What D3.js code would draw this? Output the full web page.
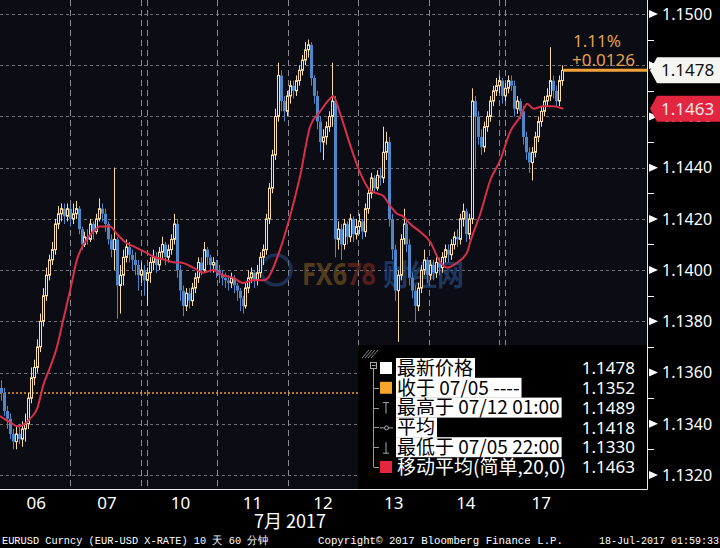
<!DOCTYPE html>
<html><head><meta charset="utf-8">
<script src="https://cdn.jsdelivr.net/npm/d3@7"></script>
<style>html,body{margin:0;padding:0;background:#000;}svg{display:block}</style>
</head><body><svg id="c" width="720" height="548"></svg>
<script>
// ---------- data (hourly EURUSD) ----------
const firstOpen = 1.1354;
const closes = [1.1352,1.1345,1.1342,1.1336,1.1333,1.1336,1.1334,1.1338,1.1340,1.1350,
1.1358,1.1362,1.1370,1.1380,1.1390,1.1398,1.1404,1.1408,1.1418,1.1422,
1.1424,1.1421,1.1424,1.1420,1.1422,1.1424,1.1416,1.1410,1.1413,1.1412,
1.1418,1.1415,1.1420,1.1424,1.1422,1.1418,1.1412,1.1408,1.1412,1.1394,
1.1398,1.1405,1.1409,1.1406,1.1404,1.1402,1.1398,1.1400,1.1396,1.1399,
1.1403,1.1405,1.1402,1.1407,1.1410,1.1405,1.1408,1.1412,1.1418,1.1400,
1.1392,1.1386,1.1391,1.1388,1.1393,1.1397,1.1403,1.1400,1.1408,1.1405,
1.1402,1.1403,1.1400,1.1398,1.1397,1.1396,1.1395,1.1397,1.1394,1.1392,
1.1389,1.1386,1.1393,1.1397,1.1399,1.1396,1.1399,1.1405,1.1408,1.1420,
1.1432,1.1445,1.1460,1.1476,1.1466,1.1462,1.1468,1.1472,1.1470,1.1474,
1.1478,1.1482,1.1486,1.1488,1.1475,1.1468,1.1458,1.1450,1.1452,1.1456,
1.1460,1.1466,1.1412,1.1416,1.1410,1.1418,1.1413,1.1420,1.1414,1.1417,
1.1419,1.1415,1.1424,1.1430,1.1436,1.1432,1.1437,1.1436,1.1446,1.1450,
1.1420,1.1408,1.1392,1.1398,1.1412,1.1418,1.1410,1.1397,1.1392,1.1386,
1.1393,1.1400,1.1404,1.1398,1.1402,1.1399,1.1403,1.1401,1.1405,1.1408,
1.1406,1.1410,1.1413,1.1412,1.1420,1.1423,1.1414,1.1420,1.1466,1.1460,
1.1452,1.1448,1.1456,1.1460,1.1466,1.1470,1.1472,1.1474,1.1468,1.1471,
1.1474,1.1472,1.1463,1.1466,1.1462,1.1452,1.1446,1.1442,1.1446,1.1452,
1.1458,1.1462,1.1466,1.1468,1.1474,1.1470,1.1466,1.1474,1.1478];
const highs = [1.1357,1.1354,1.1347,1.1344,1.1338,1.1339,1.1340,1.1341,1.1344,1.1352,
1.1362,1.1365,1.1373,1.1383,1.1393,1.1401,1.1406,1.1411,1.1420,1.1425,
1.1426,1.1426,1.1426,1.1425,1.1426,1.1427,1.1425,1.1417,1.1415,1.1416,
1.1420,1.1419,1.1422,1.1428,1.1426,1.1424,1.1419,1.1414,1.1440,1.1413,
1.1402,1.1408,1.1412,1.1411,1.1408,1.1407,1.1404,1.1403,1.1402,1.1401,
1.1405,1.1408,1.1407,1.1409,1.1413,1.1411,1.1410,1.1414,1.1422,1.1420,
1.1402,1.1394,1.1393,1.1393,1.1395,1.1399,1.1405,1.1405,1.1411,1.1409,
1.1406,1.1405,1.1404,1.1402,1.1400,1.1399,1.1398,1.1399,1.1398,1.1395,
1.1393,1.1390,1.1395,1.1400,1.1401,1.1400,1.1402,1.1407,1.1410,1.1422,
1.1434,1.1447,1.1463,1.1481,1.1478,1.1468,1.1470,1.1474,1.1474,1.1476,
1.1480,1.1484,1.1489,1.1490,1.1489,1.1476,1.1470,1.1460,1.1455,1.1458,
1.1462,1.1481,1.1468,1.1419,1.1418,1.1420,1.1419,1.1422,1.1421,1.1420,
1.1422,1.1420,1.1426,1.1432,1.1438,1.1437,1.1439,1.1440,1.1456,1.1454,
1.1452,1.1422,1.1410,1.1400,1.1414,1.1424,1.1420,1.1412,1.1399,1.1394,
1.1395,1.1402,1.1408,1.1405,1.1404,1.1404,1.1405,1.1405,1.1407,1.1410,
1.1410,1.1412,1.1415,1.1416,1.1422,1.1426,1.1424,1.1422,1.1471,1.1468,
1.1462,1.1455,1.1458,1.1462,1.1468,1.1472,1.1475,1.1476,1.1475,1.1473,
1.1476,1.1476,1.1474,1.1468,1.1467,1.1464,1.1454,1.1448,1.1448,1.1454,
1.1460,1.1464,1.1468,1.1471,1.1487,1.1476,1.1472,1.1476,1.1480];
const lows = [1.1349,1.1343,1.1338,1.1334,1.1330,1.1330,1.1332,1.1331,1.1333,1.1338,
1.1348,1.1355,1.1360,1.1368,1.1378,1.1388,1.1396,1.1402,1.1406,1.1416,
1.1419,1.1418,1.1419,1.1417,1.1418,1.1420,1.1414,1.1408,1.1409,1.1410,
1.1411,1.1412,1.1414,1.1419,1.1419,1.1415,1.1410,1.1405,1.1400,1.1381,
1.1383,1.1394,1.1403,1.1403,1.1400,1.1398,1.1392,1.1395,1.1390,1.1386,
1.1395,1.1400,1.1399,1.1400,1.1404,1.1402,1.1403,1.1406,1.1410,1.1397,
1.1388,1.1382,1.1384,1.1385,1.1386,1.1391,1.1395,1.1398,1.1399,1.1402,
1.1399,1.1399,1.1397,1.1395,1.1394,1.1393,1.1392,1.1393,1.1391,1.1388,
1.1384,1.1383,1.1385,1.1391,1.1395,1.1393,1.1394,1.1397,1.1402,1.1406,
1.1418,1.1430,1.1443,1.1458,1.1462,1.1458,1.1460,1.1465,1.1467,1.1468,
1.1472,1.1476,1.1480,1.1483,1.1472,1.1465,1.1455,1.1446,1.1443,1.1449,
1.1454,1.1456,1.1405,1.1408,1.1404,1.1408,1.1410,1.1411,1.1411,1.1412,
1.1414,1.1412,1.1413,1.1422,1.1428,1.1430,1.1431,1.1433,1.1434,1.1443,
1.1417,1.1404,1.1388,1.1372,1.1396,1.1410,1.1407,1.1394,1.1389,1.1380,
1.1384,1.1391,1.1398,1.1395,1.1396,1.1396,1.1397,1.1398,1.1399,1.1403,
1.1403,1.1404,1.1408,1.1409,1.1410,1.1417,1.1411,1.1412,1.1418,1.1440,
1.1449,1.1445,1.1446,1.1454,1.1458,1.1464,1.1468,1.1469,1.1465,1.1466,
1.1469,1.1470,1.1460,1.1461,1.1459,1.1449,1.1443,1.1438,1.1435,1.1444,
1.1450,1.1456,1.1460,1.1464,1.1466,1.1467,1.1464,1.1464,1.1472];

// 20-period simple moving average (candle index, value)
const maIndex = [-0.5,3,5.5,8,9.6,12,14,16.3,18.6,20.6,23,25.3,28,30.7,33.1,36.4,38.8,41.4,44.8,48.2,51.5,54.9,58.2,60,64.3,67.6,71,74.3,77.7,81,84.4,87.8,89.4,92.5,96.3,100.2,103.5,106.9,110.2,111.2,113.6,116.9,120.3,123.7,128,130.4,132.7,134.7,137.1,140.4,143.8,147.2,149.5,152.9,156.2,157.2,160.6,163.9,167.3,170.6,174,176.3,178.4,181.7,185.1,188.4];
const maValues = [1.1343,1.13405,1.1339,1.1340,1.1342,1.1346,1.1355,1.1362,1.1370,1.1380,1.1392,1.1404,1.1411,1.1415,1.1417,1.1417,1.1414,1.1411,1.1409,1.1407,1.1405,1.1404,1.1403,1.1403,1.1401,1.1399,1.1400,1.1398,1.1397,1.1395,1.1396,1.1396,1.1397,1.1405,1.1419,1.1437,1.1456,1.1462,1.1467,1.1468,1.1461,1.1449,1.1438,1.1431,1.1429,1.1425,1.1422,1.1421,1.1418,1.1415,1.1411,1.1403,1.1401,1.1403,1.1407,1.1411,1.1422,1.1435,1.1443,1.1454,1.1460,1.1465,1.1463,1.1464,1.1464,1.1463];

const dayEdges = [0.8, 23.5, 48.3, 72.8, 96.6, 120.1, 144, 168.5, 194.5];
const dayLabels = ["06","07","10","11","12","13","14","17"];
const weekendEdges = [48.3, 168.5];
const yMajor = [1.1320,1.1340,1.1360,1.1380,1.1400,1.1420,1.1440,1.1460,1.1480,1.1500];
const yMinor = [1.1330,1.1350,1.1370,1.1390,1.1410,1.1430,1.1450,1.1470,1.1490];
const prevClose = 1.1352;
const lastPrice = 1.1478;
const maLast = 1.1463;
const changePct = "1.11%";
const changeAbs = "+0.0126";
const legendLabels = ["最新价格","收于 07/05 ----","最高于 07/12 01:00","平均","最低于 07/05 22:00","移动平均(简单,20,0)"];
const legendValues = ["1.1478","1.1352","1.1489","1.1418","1.1330","1.1463"];
const monthLabel = "7月 2017";
const footerLeft = "EURUSD Curncy (EUR-USD X-RATE) 10 天 60 分钟";
const footerMid = "Copyright© 2017 Bloomberg Finance L.P.";
const footerRight = "18-Jul-2017 01:59:33";

// ---------- drawing ----------
const svg = d3.select("#c");
const W = 647, H = 489;
const x = d3.scaleLinear().domain([0, 217]).range([0, W]);
const y = d3.scaleLinear().domain([1.1320, 1.1500]).range([475, 14]);
const SANS = "'Noto Sans','Noto Sans CJK SC',sans-serif";
const CJK = "'Noto Sans CJK SC','Noto Sans',sans-serif";
const UP = "#f6dba2", DOWN = "#4f87c8";

svg.append("rect").attr("width",720).attr("height",548).attr("fill","#000");
svg.append("rect").attr("width",W).attr("height",H).attr("fill","#0c0c14");

// gridlines
svg.append("g").selectAll("line").data(yMajor).join("line")
  .attr("x1",0).attr("x2",W)
  .attr("y1",d=>Math.round(y(d))+0.5).attr("y2",d=>Math.round(y(d))+0.5)
  .attr("stroke","#6e6e74").attr("stroke-dasharray","3,3");
const vEdges = [];
dayEdges.slice(1,-1).forEach(e=>{
  if (weekendEdges.includes(e)) { vEdges.push(x(e)-3, x(e)+3); } else vEdges.push(x(e));
});
svg.append("g").selectAll("line").data(vEdges).join("line")
  .attr("x1",d=>Math.round(d)+0.5).attr("x2",d=>Math.round(d)+0.5)
  .attr("y1",0).attr("y2",H)
  .attr("stroke","#8a8a90").attr("stroke-dasharray","6,4");

// watermark
const wm = svg.append("g").attr("opacity",0.55);
wm.append("circle").attr("cx",276).attr("cy",270).attr("r",15)
  .attr("fill","none").attr("stroke","#2c4f86").attr("stroke-width",3.5);
const wt = wm.append("text").attr("x",302).attr("y",285).attr("font-family",SANS).attr("font-weight","bold")
  .attr("font-size",31).attr("textLength",74).attr("lengthAdjust","spacingAndGlyphs");
wt.append("tspan").attr("fill","#8a6224").text("FX6");
wt.append("tspan").attr("fill","#8c3020").text("78");
wm.append("text").attr("x",383).attr("y",286).attr("font-family",CJK).attr("font-weight","bold")
  .attr("font-size",29).attr("textLength",81).attr("lengthAdjust","spacingAndGlyphs")
  .attr("fill","#2d5a98").text("财经网");

// previous close dotted line
svg.append("line").attr("x1",0).attr("x2",W)
  .attr("y1",y(prevClose)).attr("y2",y(prevClose))
  .attr("stroke","#f29a2e").attr("stroke-width",1.6).attr("stroke-dasharray","2,2");

// candles
const candles = closes.map((c,i)=>{
  const o = i===0 ? firstOpen : closes[i-1];
  return {i, o, c, h: Math.max(highs[i],o,c), l: Math.min(lows[i],o,c)};
});
const cg = svg.append("g");
candles.forEach(d=>{
  const px = Math.round(x(d.i));
  const up = d.c >= d.o;
  const col = up ? UP : DOWN;
  const top = y(Math.max(d.o,d.c)), bot = y(Math.min(d.o,d.c));
  cg.append("line").attr("x1",px+1.5).attr("x2",px+1.5)
    .attr("y1",y(d.h)).attr("y2",top).attr("stroke",col);
  cg.append("line").attr("x1",px+1.5).attr("x2",px+1.5)
    .attr("y1",bot).attr("y2",y(d.l)).attr("stroke",col);
  if (up) {
    cg.append("rect").attr("x",px+0.5).attr("y",top)
      .attr("width",2).attr("height",Math.max(1,bot-top))
      .attr("fill","#0c0c14").attr("stroke",col).attr("stroke-width",1);
  } else {
    cg.append("rect").attr("x",px).attr("y",top)
      .attr("width",3).attr("height",Math.max(1,bot-top)).attr("fill",col);
  }
});

// moving average
const maPts = maIndex.map((k,j)=>[x(k+0.5), y(maValues[j])]);
svg.append("path").attr("d", d3.line().curve(d3.curveMonotoneX)(maPts))
  .attr("fill","none").attr("stroke","#d82f4c").attr("stroke-width",2);

// last price line
svg.append("line").attr("x1",x(closes.length)).attr("x2",W)
  .attr("y1",y(lastPrice)).attr("y2",y(lastPrice))
  .attr("stroke","#f3a33a").attr("stroke-width",3);

// change text
svg.append("text").attr("x",573).attr("y",47).attr("font-family",SANS).attr("font-size",17)
  .attr("fill","#e3a04c").text(changePct);
svg.append("text").attr("x",572).attr("y",66).attr("font-family",SANS).attr("font-size",17)
  .attr("fill","#e3a04c").text(changeAbs);

// legend
const LX = 358, LY = 345;
const lg = svg.append("g");
lg.append("rect").attr("x",LX).attr("y",LY).attr("width",W+1-LX).attr("height",H+1-LY).attr("fill","#000");
for (let k=0;k<4;k++) {
  lg.append("line").attr("x1",362+k*3).attr("y1",358).attr("x2",369+k*3).attr("y2",350)
    .attr("stroke","#8a8a8a").attr("stroke-width",1);
}
const rowY = k => 368 + k*19.8;
lg.append("rect").attr("x",370.5).attr("y",362.5).attr("width",6).attr("height",6)
  .attr("fill","none").attr("stroke","#aaa");
lg.append("line").attr("x1",372).attr("x2",375.5).attr("y1",365.5).attr("y2",365.5).attr("stroke","#aaa");
lg.append("line").attr("x1",373.5).attr("x2",373.5).attr("y1",369).attr("y2",rowY(5)).attr("stroke","#999");
for (let k=1;k<6;k++) {
  lg.append("line").attr("x1",373.5).attr("x2",379).attr("y1",Math.round(rowY(k))+0.5)
    .attr("y2",Math.round(rowY(k))+0.5).attr("stroke","#999");
}
// icons
lg.append("rect").attr("x",380).attr("y",rowY(0)-6).attr("width",12).attr("height",12).attr("fill","#fff");
lg.append("rect").attr("x",380).attr("y",rowY(1)-6).attr("width",12).attr("height",12).attr("fill","#f5a52c");
lg.append("path").attr("d",`M383,${rowY(2)-5}H389M386,${rowY(2)-5}V${rowY(2)+6}`).attr("stroke","#aaa").attr("fill","none");
lg.append("path").attr("d",`M380,${rowY(3)+0.5}H393`).attr("stroke","#aaa");
lg.append("circle").attr("cx",386.5).attr("cy",rowY(3)+0.5).attr("r",2).attr("fill","#0c0c14").attr("stroke","#aaa");
lg.append("path").attr("d",`M383,${rowY(4)+6}H389M386,${rowY(4)-5}V${rowY(4)+6}`).attr("stroke","#aaa").attr("fill","none");
lg.append("rect").attr("x",380).attr("y",rowY(5)-6).attr("width",12).attr("height",12).attr("fill","#e6263f");

legendLabels.forEach((t,k)=>{
  const cy = rowY(k);
  const bg = lg.append("rect").attr("x",396).attr("y",cy-10).attr("height",20);
  const tx = lg.append("text").attr("x",397).attr("y",cy).attr("dy","0.36em")
    .attr("font-family",CJK).attr("font-size",19).text(t);
  const w = tx.node().getComputedTextLength();
  if (k < 5) {
    bg.attr("width", w+3).attr("fill","#fff");
    tx.attr("fill","#000");
    if (k===3) {
      lg.append("rect").attr("x",396+w+3).attr("y",cy-9).attr("width",565-(396+w+3)).attr("height",19).attr("fill","#000");
    }
  } else {
    bg.attr("width",0).attr("fill","none");
    tx.attr("fill","#fff");
  }
  lg.append("text").attr("x",635).attr("y",cy).attr("dy","0.36em").attr("text-anchor","end")
    .attr("font-family",SANS).attr("font-size",17).attr("fill","#fff").text(legendValues[k]);
});

// frame
svg.append("path").attr("d",`M${W+0.5},0V${H+0.5}H0`).attr("fill","none").attr("stroke","#e8e8e8");

// right axis
const ax = svg.append("g");
yMajor.forEach(v=>{
  const yy = y(v);
  ax.append("path").attr("d",`M649,${yy-4}L658,${yy}L649,${yy+4}Z`).attr("fill","#fff");
  if (Math.abs(v - lastPrice) < 0.0005) return; // fully hidden behind the last-price box
  ax.append("text").attr("x",662).attr("y",yy).attr("dy","0.36em").attr("font-family",SANS)
    .attr("font-size",16).attr("fill","#fff").text(v.toFixed(4));
});
yMinor.forEach(v=>{
  const yy = Math.round(y(v))+0.5;
  ax.append("line").attr("x1",648).attr("x2",654).attr("y1",yy).attr("y2",yy).attr("stroke","#fff");
});

// price boxes
function priceBox(v, fill, txtCol) {
  const yc = y(v);
  ax.append("path").attr("d",`M650,${yc}L657,${yc-13}H720V${yc+13}H657Z`).attr("fill",fill);
  ax.append("text").attr("x",661).attr("y",yc).attr("dy","0.36em").attr("font-family",SANS)
    .attr("font-size",17).attr("fill",txtCol).text(v.toFixed(4));
}
priceBox(lastPrice, "#f4f4f0", "#111");
priceBox(maLast, "#e2263f", "#ffe4ea");

// x axis labels
const xl = svg.append("g");
dayLabels.forEach((t,k)=>{
  xl.append("text").attr("x",x((dayEdges[k]+dayEdges[k+1])/2)).attr("y",509)
    .attr("text-anchor","middle").attr("font-family",SANS).attr("font-size",17)
    .attr("fill","#fff").text(t);
});
xl.append("text").attr("x",290).attr("y",528).attr("text-anchor","middle")
  .attr("font-family",CJK).attr("font-size",18).attr("fill","#fff").text(monthLabel);

// footer
const MONO = "'Liberation Mono','DejaVu Sans Mono',monospace";
svg.append("text").attr("x",2).attr("y",544).attr("font-family",MONO).attr("font-size",11)
  .attr("textLength",266).attr("lengthAdjust","spacingAndGlyphs").attr("fill","#fff").text(footerLeft);
svg.append("text").attr("x",318).attr("y",544).attr("font-family",MONO).attr("font-size",11)
  .attr("textLength",245).attr("lengthAdjust","spacingAndGlyphs").attr("fill","#fff").text(footerMid);
svg.append("text").attr("x",599).attr("y",544).attr("font-family",MONO).attr("font-size",10)
  .attr("fill","#fff").text(footerRight);
</script></body></html>
